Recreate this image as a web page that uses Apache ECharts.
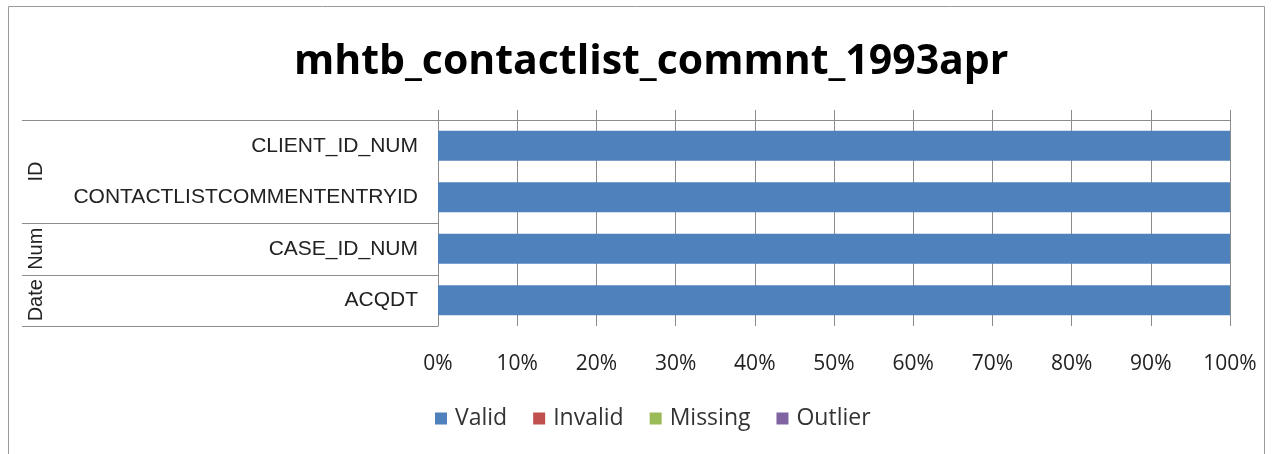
<!DOCTYPE html>
<html><head><meta charset="utf-8">
<script src="https://cdn.jsdelivr.net/npm/echarts@6/dist/echarts.min.js"></script>
<style>html,body{margin:0;padding:0;background:#fff}#c{width:1272px;height:454px}</style>
</head><body><div id="c"></div>
<script>
const titleText = 'mhtb_contactlist_commnt_1993apr';
const categories = ['CLIENT_ID_NUM', 'CONTACTLISTCOMMENTENTRYID', 'CASE_ID_NUM', 'ACQDT'];
const groupNames = ['ID', 'Num', 'Date'];
const groupSizes = [2, 1, 1];
const seriesNames = ['Valid', 'Invalid', 'Missing', 'Outlier'];
const validVals = [100, 100, 100, 100];
const invalidVals = [0, 0, 0, 0];
const missingVals = [0, 0, 0, 0];
const outlierVals = [0, 0, 0, 0];
const tickValues = [0, 10, 20, 30, 40, 50, 60, 70, 80, 90, 100];
const colors = ['#4F81BD', '#C0504D', '#9BBB59', '#8064A2'];
const allVals = [validVals, invalidVals, missingVals, outlierVals];

const chart = echarts.init(document.getElementById('c'), null, {renderer: 'canvas'});
const GL = 438, GR = 1230, GT = 120, GB = 326;
const lineColor = '#8C8C8C';
const option = {
  animation: false,
  color: colors,
  title: {
    text: titleText, left: 289, top: 37,
    textStyle: {fontFamily: 'Open Sans', fontWeight: 'bold', fontSize: 41, color: '#000'}
  },
  legend: {
    bottom: 19, left: 430, icon: 'rect', itemWidth: 12, itemHeight: 12, itemGap: 26,
    textStyle: {fontFamily: 'Open Sans', fontSize: 23, color: '#333', padding: [0, 0, 0, 3]},
    data: seriesNames
  },
  grid: {left: GL, right: 1272 - GR, top: GT, bottom: 454 - GB, containLabel: false},
  xAxis: [{
    type: 'value', min: 0, max: 100, interval: 10, position: 'bottom',
    axisLine: {show: false}, axisTick: {show: false},
    splitLine: {show: true, lineStyle: {color: lineColor, width: 1}},
    axisLabel: {formatter: v => tickValues.includes(v) ? v + '%' : '', margin: 28,
      fontFamily: 'Open Sans', fontSize: 21, color: '#222'}
  }, {
    type: 'value', min: 0, max: 100, interval: 10, position: 'top',
    axisLine: {show: true, lineStyle: {color: lineColor}},
    axisTick: {show: true, length: 10, lineStyle: {color: lineColor}},
    axisLabel: {show: false}, splitLine: {show: false}
  }],
  yAxis: {
    type: 'category', data: categories, inverse: true,
    axisLine: {show: true, lineStyle: {color: lineColor}},
    axisTick: {show: false},
    axisLabel: {margin: 20, fontFamily: 'Liberation Sans', fontSize: 21, color: '#222'}
  },
  series: seriesNames.map((n, i) => ({
    name: n, type: 'bar', stack: 'all', barWidth: '58%', data: allVals[i], xAxisIndex: 0
  }))
};
chart.setOption(option);

// group labels and separators on the left
const graphics = [];
let start = 0;
const pxOf = idx => chart.convertToPixel({yAxisIndex: 0}, idx);
const band = pxOf(1) - pxOf(0);
const boundaries = [];
groupSizes.forEach((sz, gi) => {
  const top = pxOf(start) - band / 2;
  const bot = pxOf(start + sz - 1) + band / 2;
  if (gi === 0) boundaries.push(top);
  boundaries.push(bot);
  graphics.push({
    type: 'text', x: 36, y: (top + bot) / 2, rotation: Math.PI / 2,
    style: {text: groupNames[gi], font: '20px "Liberation Sans"', fill: '#222',
      textAlign: 'center', textVerticalAlign: 'middle'}
  });
  start += sz;
});
boundaries.forEach((y, i) => {
  const yy = Math.round(y) + 0.5;
  graphics.push({type: 'line', shape: {x1: 22, y1: yy, x2: GL, y2: yy},
    style: {stroke: lineColor, lineWidth: 1}});
});
graphics.push({type: 'rect', shape: {x: 8.5, y: 6.5, width: 1256, height: 460},
  style: {fill: 'none', stroke: '#9A9A9A', lineWidth: 1}, silent: true});
chart.setOption({graphic: graphics});
</script></body></html>
